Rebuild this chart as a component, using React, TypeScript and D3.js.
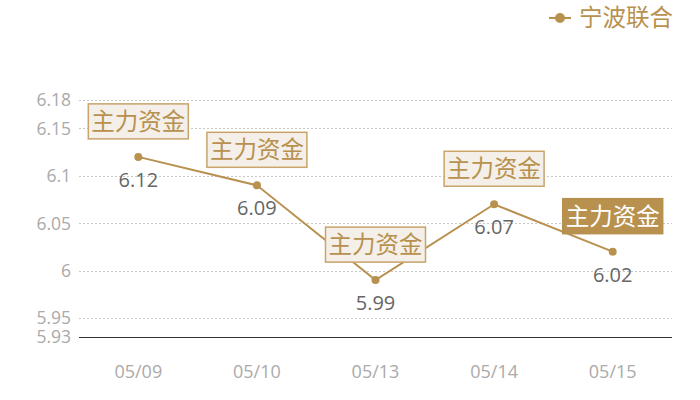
import * as d3 from 'd3'

const dates = ['05/09', '05/10', '05/13', '05/14', '05/15']
const prices = [6.12, 6.09, 5.99, 6.07, 6.02]
const yTicks = [5.93, 5.95, 6, 6.05, 6.1, 6.15, 6.18]
const seriesName = '宁波联合'
const tagText = '主力资金'
// the last tag is the highlighted one
const highlighted = [false, false, false, false, true]

const W = 700
const H = 400
const gold = '#b8914f'
const cjk = '"Noto Sans CJK SC", "Noto Sans", sans-serif'
const latin = '"Open Sans", "Noto Sans", sans-serif'

export default function App() {
  const x = d3.scaleBand<string>().domain(dates).range([79, 672])
  const y = d3.scaleLinear().domain([5.93, 6.18]).range([337, 100])
  const cx = (d: string) => (x(d) ?? 0) + x.bandwidth() / 2
  // snap horizontal rules to the pixel grid
  const crisp = (v: number) => Math.round(v) + 0.5

  const line = d3
    .line<number>()
    .x((_, i) => cx(dates[i]))
    .y((v) => y(v))

  return (
    <svg width={W} height={H} style={{ position: 'absolute', left: 0, top: 0 }}>
      <rect width={W} height={H} fill="#fff" />
      {/* grid */}
      {yTicks.map((t) => (
        <g key={t}>
          {t !== 5.93 && (
            <line
              x1={79}
              x2={672}
              y1={crisp(y(t))}
              y2={crisp(y(t))}
              stroke="#c8c8c8"
              strokeDasharray="2,2"
            />
          )}
          <text
            x={71}
            y={y(t)}
            dy="0.36em"
            textAnchor="end"
            fontFamily={latin}
            fontSize={17.5}
            fill="#aaa"
          >
            {String(t)}
          </text>
        </g>
      ))}
      <line
        x1={79}
        x2={672}
        y1={crisp(y(5.93))}
        y2={crisp(y(5.93))}
        stroke="#333"
        strokeWidth={1}
      />
      {dates.map((d) => (
        <text
          key={d}
          x={cx(d)}
          y={378}
          textAnchor="middle"
          fontFamily={latin}
          fontSize={18}
          fill="#aaa"
        >
          {d}
        </text>
      ))}
      <path d={line(prices) ?? ''} fill="none" stroke={gold} strokeWidth={2} />
      {prices.map((v, i) => {
        const px = cx(dates[i])
        const py = y(v)
        const hi = highlighted[i]
        return (
          <g key={i}>
            <circle cx={px} cy={py} r={4} fill={gold} />
            <text
              x={px}
              y={py + 30}
              textAnchor="middle"
              fontFamily={latin}
              fontSize={20}
              fill="#666"
            >
              {v.toFixed(2)}
            </text>
            <rect
              x={px - 50}
              y={py - 53}
              width={100}
              height={35}
              fill={hi ? gold : '#f4efe8'}
              stroke={hi ? gold : '#c9a46b'}
              strokeWidth={1.5}
            />
            <text
              x={px}
              y={py - 35.5}
              dy="0.36em"
              textAnchor="middle"
              fontFamily={cjk}
              fontSize={23.5}
              fill={hi ? '#fff' : gold}
            >
              {tagText}
            </text>
          </g>
        )
      })}
      {/* legend */}
      <line x1={549} x2={571} y1={18} y2={18} stroke={gold} strokeWidth={2} />
      <circle cx={560} cy={18} r={5} fill={gold} />
      <text x={579} y={18} dy="0.36em" fontFamily={cjk} fontSize={23.5} fill={gold}>
        {seriesName}
      </text>
    </svg>
  )
}
